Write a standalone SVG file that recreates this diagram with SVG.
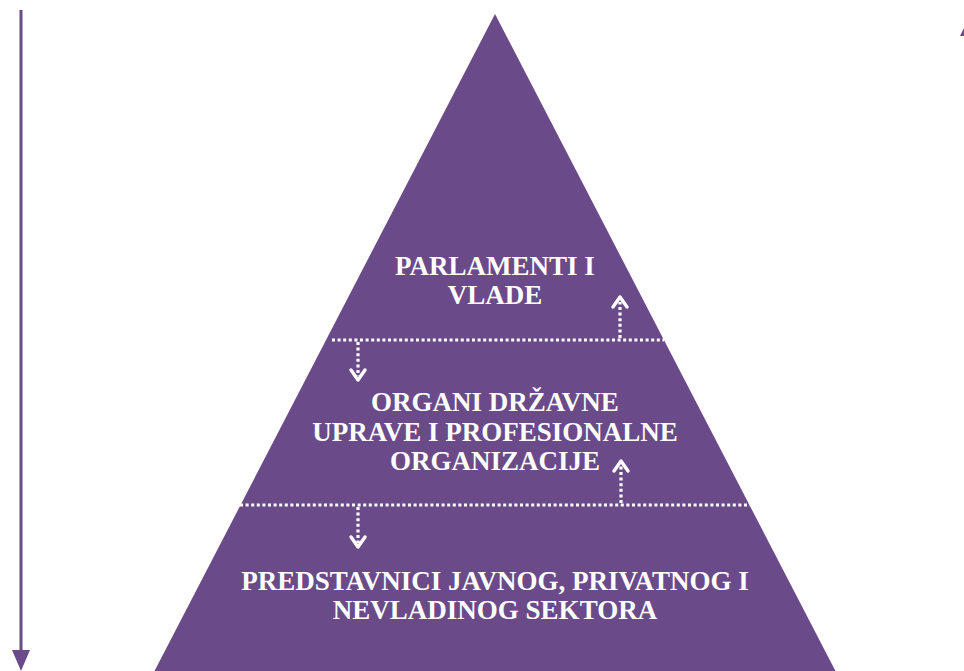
<svg xmlns="http://www.w3.org/2000/svg" width="964" height="671" viewBox="0 0 964 671">
<defs>
<style>
.lbl{font-family:"Liberation Serif","Times New Roman",serif;font-weight:bold;font-size:27px;fill:#ffffff;text-anchor:middle}
.dot{stroke:#ffffff;stroke-width:3.2;stroke-dasharray:3 2.6;fill:none}
.chev{stroke:#ffffff;stroke-width:3.4;fill:none;stroke-linecap:round;stroke-linejoin:round}
</style>
</defs>
<rect width="964" height="671" fill="#ffffff"/>
<g id="pyramid">
<polygon points="495,14 836,672 154,672" fill="#6b4a89"/>
</g>
<g id="axis-left">
<line x1="21" y1="10" x2="21" y2="652" stroke="#6b4a89" stroke-width="3"/>
<polygon points="12,650 30,650 21,671" fill="#6b4a89"/>
</g>
<g id="axis-right">
<polygon points="969,18 960,36 978,36" fill="#6b4a89"/>
</g>
<g id="level-top">
<text class="lbl" x="495" y="275">PARLAMENTI I</text>
<text class="lbl" x="495" y="304">VLADE</text>
</g>
<g id="level-middle">
<text class="lbl" x="495" y="411">ORGANI DRŽAVNE</text>
<text class="lbl" x="495" y="441">UPRAVE I PROFESIONALNE</text>
<text class="lbl" x="495" y="470">ORGANIZACIJE</text>
</g>
<g id="level-bottom">
<text class="lbl" x="495" y="590">PREDSTAVNICI JAVNOG, PRIVATNOG I</text>
<text class="lbl" x="495" y="619">NEVLADINOG SEKTORA</text>
</g>
<g id="connectors">
<line class="dot" x1="332" y1="340" x2="664" y2="340"/>
<line class="dot" x1="240" y1="505" x2="750" y2="505"/>
<line class="dot" x1="358" y1="342" x2="358" y2="376"/>
<polyline class="chev" points="351,370 358,380 365,370"/>
<line class="dot" x1="620" y1="338" x2="620" y2="302"/>
<polyline class="chev" points="613,307 620,297 627,307"/>
<line class="dot" x1="358" y1="507" x2="358" y2="543"/>
<polyline class="chev" points="351,537 358,547 365,537"/>
<line class="dot" x1="621" y1="503" x2="621" y2="466"/>
<polyline class="chev" points="614,471 621,461 628,471"/>
</g>
</svg>
